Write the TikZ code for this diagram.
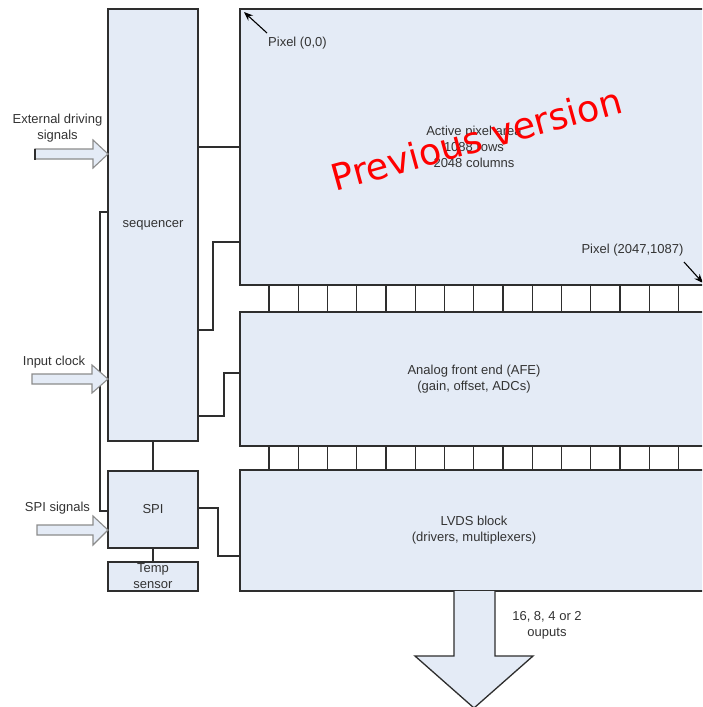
\documentclass[tikz,border=0pt]{standalone}
\usepackage{fontspec}
\setmainfont{Liberation Sans}
\newfontfamily\wmfont{DejaVu Sans}
\usetikzlibrary{arrows.meta}
\definecolor{boxfill}{HTML}{E4EBF6}
\definecolor{boxline}{HTML}{2E2E2E}
\definecolor{txt}{HTML}{333333}
\definecolor{arrline}{HTML}{8C8C8C}
\tikzset{
  blk/.style={draw=boxline, fill=boxfill, line width=1.3pt, rectangle, anchor=north west,
    inner sep=0pt, outer sep=0pt, align=center, text=txt,
    font=\fontsize{13}{16}\selectfont},
  wire/.style={draw=boxline, line width=1.3pt},
  lbl/.style={text=txt, align=center, inner sep=0pt, font=\fontsize{13}{16}\selectfont},
  inarrow/.style={draw=arrline, fill=boxfill, line width=1.1pt, line join=miter},
  ptr/.style={draw=black, line width=1.1pt, -{Stealth[length=9pt,width=7pt]}},
}
\begin{document}
\begin{tikzpicture}[x=1pt,y=-1pt]
\useasboundingbox (0,0) rectangle (702,707);
\clip (0,0) rectangle (702,707);
\fill[white] (0,0) rectangle (702,707);

% blocks
\node[blk, minimum width=90pt, minimum height=432pt] (seq) at (108,9) {sequencer};
\node[blk, minimum width=90pt, minimum height=77pt] (spi) at (108,471) {SPI};
\node[blk, minimum width=90pt, minimum height=29pt] (temp) at (108,562) {Temp\\sensor};
\node[blk, minimum width=468pt, minimum height=276pt] (pix) at (240,9) {Active pixel area\\1088 rows\\2048 columns};
\node[blk, minimum width=468pt, minimum height=134pt] (afe) at (240,312) {Analog front end (AFE)\\(gain, offset, ADCs)};
\node[blk, minimum width=468pt, minimum height=121pt] (lvds) at (240,470) {LVDS block\\(drivers, multiplexers)};

% column cells
\foreach \k in {0,...,15}{
  \draw[wire] (pix.south -| 269+29.25*\k,0) -- (afe.north -| 269+29.25*\k,0);
  \draw[wire] (afe.south -| 269+29.25*\k,0) -- (lvds.north -| 269+29.25*\k,0);
}

% connectors
\draw[wire] (seq.east |- 0,147) -- (pix.west |- 0,147);
\draw[wire] (seq.east |- 0,330) -- (213,330) -- (213,242) -- (pix.west |- 0,242);
\draw[wire] (seq.east |- 0,416) -- (224,416) -- (224,373) -- (afe.west |- 0,373);
\draw[wire] (spi.east |- 0,508) -- (218,508) -- (218,556) -- (lvds.west |- 0,556);
\draw[wire] (seq.south) -- (spi.north);
\draw[wire] (spi.south) -- (temp.north);
\draw[wire] (seq.west |- 0,212) -- (100,212) -- (100,511) -- (spi.west |- 0,511);

% input arrows
\coordinate (extTip) at (seq.west |- 0,154);
\draw[inarrow] (35,149) -- (93,149) -- (93,140) -- (extTip) -- (93,168) -- (93,159) -- (35,159) -- cycle;
\draw[boxline, line width=1.3pt] (35,148.5) -- (35,159.5);
\coordinate (clkTip) at (seq.west |- 0,379);
\draw[inarrow] (32,374) -- (92,374) -- (92,365) -- (clkTip) -- (92,393) -- (92,384) -- (32,384) -- cycle;
\coordinate (spiTip) at (spi.west |- 0,530);
\draw[inarrow] (37,525) -- (93,525) -- (93,516) -- (spiTip) -- (93,545) -- (93,535) -- (37,535) -- cycle;

\node[lbl] (extlbl) at (57.5,128) {External driving\\signals};
\node[lbl] (clklbl) at (54,362) {Input clock};
\node[lbl] (spilbl) at (57.5,508) {SPI signals};

% output arrow
\coordinate (outTip) at (474,708);
\draw[draw=boxline, fill=boxfill, line width=1.3pt, line join=miter]
  (lvds.south -| 454,0) -- (454,656) -- (415,656) -- (outTip) -- (533,656) -- (495,656) -- (lvds.south -| 495,0);
\node[lbl] (outlbl) at (547,625) {16, 8, 4 or 2\\ouputs};

% pixel markers
\node[lbl, anchor=west] (p00) at (268,43) {Pixel (0,0)};
\coordinate (p00tail) at (267,33);
\coordinate (p00tip) at (244,12);
\draw[ptr] (p00tail) -- (p00tip);
\node[lbl] (pend) at (632.5,250) {Pixel (2047,1087)};
\coordinate (pendTail) at (684,262);
\coordinate (pendTip) at (703,283);
\draw[ptr] (pendTail) -- (pendTip);

% watermark
\node[text=red, font=\wmfont\fontsize{36.5}{40}\selectfont, rotate=15.4, anchor=base, inner sep=0pt] (wm) at (480,151.7) {Previous version};
\end{tikzpicture}
\end{document}
